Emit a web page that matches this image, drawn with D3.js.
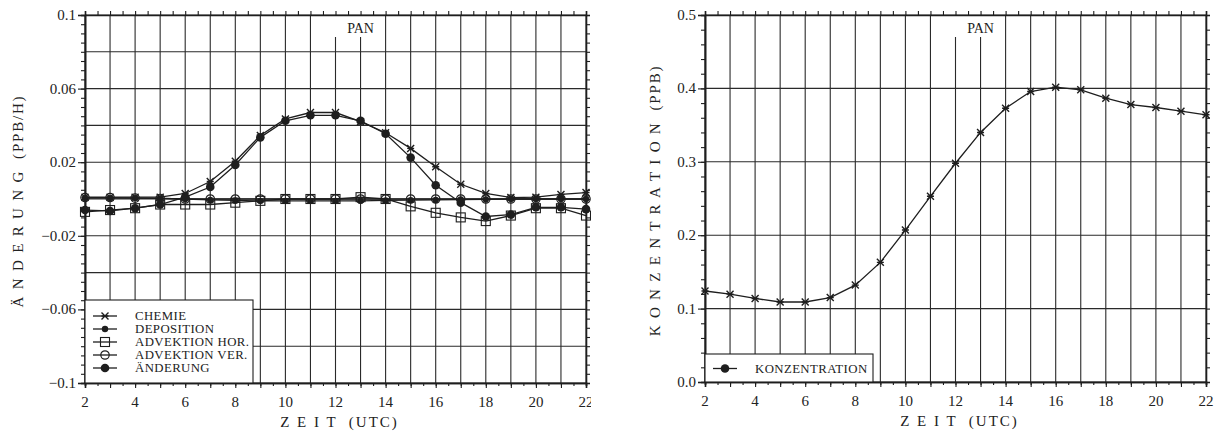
<html>
<head>
<meta charset="utf-8">
<title>PAN</title>
<script src="https://d3js.org/d3.v7.min.js"></script>
<style>
    body{
        margin: 0;
        background: #fff;
    }
    text{
        font-family: "Liberation Serif", "DejaVu Serif", serif;
        fill: #222;
    }
</style>
</head>
<body>
<svg id="chart"></svg>
<script>

//hours (UTC)
var hours = [2, 3, 4, 5, 6, 7, 8, 9, 10, 11, 12, 13, 14, 15, 16, 17, 18, 19, 20, 21, 22];
var xTickLabels = [2, 4, 6, 8, 10, 12, 14, 16, 18, 20, 22];

//left panel: budget terms (ppb/h)
var chemie      = [0.001, 0.001, 0.001, 0.001, 0.003, 0.0095, 0.0205, 0.0345, 0.0435, 0.047, 0.047, 0.042, 0.036, 0.0275, 0.0175, 0.008, 0.003, 0.0008, 0.001, 0.0025, 0.0035];
var deposition  = [0.0005, 0.0005, 0.0005, 0.0003, 0.0, -0.0005, -0.0008, -0.001, -0.001, -0.001, -0.001, -0.001, -0.0008, -0.0006, -0.0005, -0.0003, -0.0002, 0.0, 0.0, 0.0, 0.0];
var advHor      = [-0.007, -0.006, -0.005, -0.003, -0.003, -0.003, -0.002, -0.001, 0.0, 0.0, 0.0, 0.001, 0.0, -0.004, -0.0075, -0.010, -0.012, -0.009, -0.005, -0.005, -0.009];
var advVer      = [0.0008, 0.0008, 0.0005, 0.0003, 0.0, 0.0, 0.0, 0.0, 0.0, 0.0, 0.0, 0.0, 0.0, 0.0, 0.0, 0.0, 0.0, 0.0, 0.0, 0.0, 0.0];
var aenderung   = [-0.006, -0.0065, -0.005, -0.003, 0.001, 0.0065, 0.0185, 0.0335, 0.0425, 0.0455, 0.0455, 0.0425, 0.0355, 0.0225, 0.0075, -0.002, -0.0095, -0.0085, -0.0045, -0.0045, -0.0055];
var leftNames   = ["CHEMIE", "DEPOSITION", "ADVEKTION HOR.", "ADVEKTION VER.", "ÄNDERUNG"];
var leftYTicks  = [0.1, 0.06, 0.02, -0.02, -0.06, -0.1];
var leftYTickLabels = ["0.1", "0.06", "0.02", "\u22120.02", "\u22120.06", "\u22120.1"];

//right panel: concentration (ppb)
var konzentration = [0.124, 0.1197, 0.1138, 0.109, 0.109, 0.115, 0.132, 0.163, 0.207, 0.253, 0.298, 0.340, 0.373, 0.3957, 0.4016, 0.398, 0.3866, 0.378, 0.374, 0.369, 0.364];
var rightNames  = ["KONZENTRATION"];
var rightYTicks = [0.0, 0.1, 0.2, 0.3, 0.4, 0.5];
var rightYTickLabels = ["0.0", "0.1", "0.2", "0.3", "0.4", "0.5"];

var width = 1228, height = 436;
var svg = d3.select("#chart").attr("width", width).attr("height", height);
var ink = "#1e1e1e";

//marker drawing
function drawMarker(g, type, x, y){
    if(type == "star"){
        var s = 3.5;
        g.append("path")
            .attr("d", "M" + (x - s) + "," + (y - s) + "L" + (x + s) + "," + (y + s) +
                       "M" + (x - s) + "," + (y + s) + "L" + (x + s) + "," + (y - s) +
                       "M" + (x - s) + "," + y + "L" + (x + s) + "," + y)
            .style("stroke", ink).style("stroke-width", 1.4).style("fill", "none");
    } else if(type == "dot"){
        g.append("circle").attr("cx", x).attr("cy", y).attr("r", 3.2).style("fill", ink);
    } else if(type == "square"){
        g.append("rect").attr("x", x - 4.5).attr("y", y - 4.5).attr("width", 9).attr("height", 9)
            .style("fill", "none").style("stroke", ink).style("stroke-width", 1.1);
    } else if(type == "ring"){
        g.append("circle").attr("cx", x).attr("cy", y).attr("r", 4.2)
            .style("fill", "none").style("stroke", ink).style("stroke-width", 1.2);
    } else if(type == "bigdot"){
        g.append("circle").attr("cx", x).attr("cy", y).attr("r", 4.3).style("fill", ink);
    }
}

function drawPanel(cfg){
    var g = svg.append("g").attr("clip-path", "url(#" + cfg.clipId + ")");
    svg.append("clipPath").attr("id", cfg.clipId)
        .append("rect").attr("x", cfg.clipLeft).attr("y", 0)
        .attr("width", cfg.clipRight - cfg.clipLeft).attr("height", height);

    var x = d3.scaleLinear().domain([2, 22]).range([cfg.left, cfg.right]);
    var y = d3.scaleLinear().domain(cfg.yDomain).range([cfg.bottom, cfg.top]);

    //grid
    var grid = g.append("g");
    grid.selectAll(".vgrid").data(hours).enter().append("line")
        .attr("x1", function(d){ return x(d); }).attr("x2", function(d){ return x(d); })
        .attr("y1", cfg.top).attr("y2", cfg.bottom)
        .style("stroke", "#2a2a2a").style("stroke-width", 1.1);
    grid.selectAll(".hgrid").data(y.ticks(cfg.gridCount)).enter().append("line")
        .attr("x1", cfg.left).attr("x2", cfg.right)
        .attr("y1", function(d){ return y(d); }).attr("y2", function(d){ return y(d); })
        .style("stroke", "#2a2a2a").style("stroke-width", 1.1);

    //white box behind the title
    g.append("rect").attr("x", x(11.6)).attr("y", cfg.top + 1)
        .attr("width", x(13.8) - x(11.6)).attr("height", 21).style("fill", "#fff");
    g.append("text").attr("x", x(13)).attr("y", cfg.top + 18)
        .attr("text-anchor", "middle").style("font-size", "14px").text("PAN");

    //axes on all four sides
    var minorX = d3.range(2, 22.01, 0.5);
    var minorY = d3.range(cfg.yDomain[0], cfg.yDomain[1] + cfg.minorStep / 2, cfg.minorStep);

    var bottomAxis = d3.axisBottom(x).tickValues(hours).tickSize(5).tickFormat("");
    var topAxis = d3.axisTop(x).tickValues(minorX).tickSize(4).tickFormat("");
    var leftAxis = d3.axisLeft(y).tickValues(minorY).tickSize(4).tickFormat("");
    var rightAxis = d3.axisRight(y).tickValues(minorY).tickSize(4).tickFormat("");
    var bottomMinor = d3.axisBottom(x).tickValues(minorX).tickSize(3).tickFormat("");
    var leftMajor = d3.axisLeft(y).tickValues(cfg.yTicks).tickSize(7).tickFormat("");

    [[bottomAxis, "translate(0," + cfg.bottom + ")"],
     [bottomMinor, "translate(0," + cfg.bottom + ")"],
     [topAxis, "translate(0," + cfg.top + ")"],
     [leftAxis, "translate(" + cfg.left + ",0)"],
     [leftMajor, "translate(" + cfg.left + ",0)"],
     [rightAxis, "translate(" + cfg.right + ",0)"]].forEach(function(a){
        var ax = g.append("g").attr("transform", a[1]).call(a[0]);
        ax.selectAll("line").style("stroke", ink).style("stroke-width", 1.1);
        ax.select(".domain").style("stroke", ink).style("stroke-width", 1.6);
    });

    //tick labels
    g.selectAll(".xlab").data(xTickLabels).enter().append("text")
        .attr("x", function(d){ return x(d); }).attr("y", cfg.bottom + 24)
        .attr("text-anchor", "middle").style("font-size", "15px").text(function(d){ return d; });
    g.selectAll(".ylab").data(cfg.yTicks).enter().append("text")
        .attr("x", cfg.left - 9).attr("y", function(d){ return y(d) + 5; })
        .attr("text-anchor", "end").style("font-size", "15px")
        .text(function(d, i){ return cfg.yTickLabels[i]; });

    //axis titles
    g.append("text").attr("x", (cfg.left + cfg.right) / 2 + 4).attr("y", cfg.bottom + 44)
        .attr("text-anchor", "middle").style("font-size", "15px").attr("xml:space", "preserve")
        .style("letter-spacing", "2px")
        .text("Z E I T  (UTC)");
    g.append("text")
        .attr("transform", "translate(" + cfg.ylabX + "," + ((cfg.top + cfg.bottom) / 2 + 2) + ") rotate(-90)")
        .attr("text-anchor", "middle").style("font-size", "15px").attr("xml:space", "preserve")
        .style("letter-spacing", "1.8px")
        .text(cfg.ylabel);

    //series
    var line = d3.line()
        .x(function(d, i){ return x(hours[i]); })
        .y(function(d){ return y(d); });
    cfg.series.forEach(function(s){
        g.append("path").datum(s.values).attr("d", line)
            .style("fill", "none").style("stroke", ink).style("stroke-width", 1.3);
        s.values.forEach(function(v, i){
            drawMarker(g, s.marker, x(hours[i]), y(v));
        });
    });

    //legend
    var lg = g.append("g");
    var rowH = 13;
    var boxH = cfg.series.length * rowH + cfg.legendPad;
    lg.append("rect").attr("x", cfg.left).attr("y", cfg.bottom - boxH)
        .attr("width", cfg.legendW).attr("height", boxH)
        .style("fill", "#fff").style("stroke", ink).style("stroke-width", 1.1);
    cfg.series.forEach(function(s, i){
        var ry = cfg.bottom - boxH + cfg.legendPad / 2 + 7 + i * rowH;
        lg.append("line").attr("x1", cfg.left + 8).attr("x2", cfg.left + 32)
            .attr("y1", ry).attr("y2", ry).style("stroke", ink).style("stroke-width", 1.3);
        drawMarker(lg, s.legendMarker || s.marker, cfg.left + 20, ry);
        lg.append("text").attr("x", cfg.left + 50).attr("y", ry + 4)
            .style("font-size", "12.8px").style("letter-spacing", "0.4px").text(s.name);
    });
}

drawPanel({
    clipId: "clipLeft", clipLeft: 0, clipRight: 591,
    left: 85, right: 586, top: 15, bottom: 383,
    yDomain: [-0.1, 0.1], gridCount: 10, minorStep: 0.005,
    yTicks: leftYTicks, yTickLabels: leftYTickLabels,
    ylabX: 23, ylabel: "Ä N D E R U N G  (PPB/H)",
    legendW: 168, legendPad: 18,
    series: [
        {name: leftNames[0], values: chemie, marker: "star"},
        {name: leftNames[1], values: deposition, marker: "dot"},
        {name: leftNames[2], values: advHor, marker: "square"},
        {name: leftNames[3], values: advVer, marker: "ring"},
        {name: leftNames[4], values: aenderung, marker: "bigdot"}
    ]
});

drawPanel({
    clipId: "clipRight", clipLeft: 600, clipRight: 1215,
    left: 705, right: 1206, top: 15, bottom: 382,
    yDomain: [0, 0.5], gridCount: 5, minorStep: 0.02,
    yTicks: rightYTicks, yTickLabels: rightYTickLabels,
    ylabX: 660, ylabel: "K O N Z E N T R A T I O N  (PPB)",
    legendW: 168, legendPad: 15,
    series: [
        {name: rightNames[0], values: konzentration, marker: "star", legendMarker: "bigdot"}
    ]
});

</script>
</body>
</html>
